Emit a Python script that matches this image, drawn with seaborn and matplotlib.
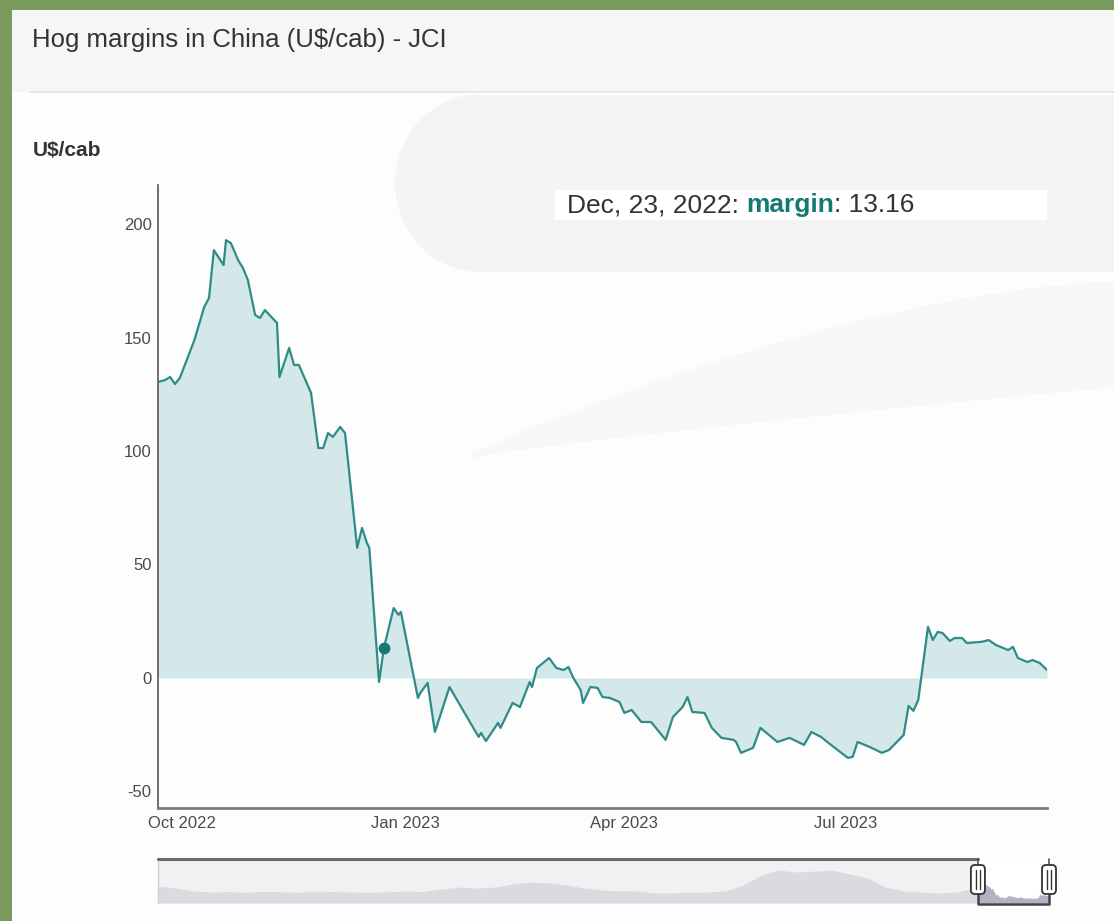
import numpy as np
import pandas as pd
import matplotlib
matplotlib.use("Agg")
import matplotlib.pyplot as plt
import matplotlib.dates as mdates
import matplotlib.transforms as mtransforms
from matplotlib.patches import Rectangle, FancyBboxPatch, Polygon
from matplotlib.lines import Line2D
import seaborn as sns

# ---------------- data ----------------
dates = [
    "2022-09-21", "2022-09-24", "2022-09-26", "2022-09-28", "2022-09-30",
    "2022-10-06", "2022-10-10", "2022-10-12", "2022-10-14", "2022-10-18",
    "2022-10-19", "2022-10-21", "2022-10-24", "2022-10-26", "2022-10-28",
    "2022-10-31", "2022-11-02", "2022-11-04", "2022-11-09", "2022-11-10",
    "2022-11-14", "2022-11-16", "2022-11-18", "2022-11-23", "2022-11-26",
    "2022-11-28", "2022-11-30", "2022-12-02", "2022-12-05", "2022-12-07",
    "2022-12-12", "2022-12-14", "2022-12-16", "2022-12-17", "2022-12-21",
    "2022-12-23", "2022-12-27", "2022-12-29", "2022-12-30", "2023-01-06",
    "2023-01-07", "2023-01-10", "2023-01-13", "2023-01-19", "2023-01-31",
    "2023-02-01", "2023-02-03", "2023-02-08", "2023-02-09", "2023-02-14",
    "2023-02-17", "2023-02-21", "2023-02-22", "2023-02-24", "2023-03-01",
    "2023-03-04", "2023-03-07", "2023-03-09", "2023-03-11", "2023-03-14",
    "2023-03-15", "2023-03-18", "2023-03-21", "2023-03-23", "2023-03-26",
    "2023-03-30", "2023-04-01", "2023-04-04", "2023-04-08", "2023-04-12",
    "2023-04-18", "2023-04-21", "2023-04-25", "2023-04-27", "2023-04-29",
    "2023-05-04", "2023-05-07", "2023-05-11", "2023-05-16", "2023-05-17",
    "2023-05-19", "2023-05-24", "2023-05-27", "2023-06-03", "2023-06-08",
    "2023-06-14", "2023-06-17", "2023-06-21", "2023-06-24", "2023-07-02",
    "2023-07-04", "2023-07-06", "2023-07-11", "2023-07-16", "2023-07-19",
    "2023-07-25", "2023-07-27", "2023-07-29", "2023-07-31", "2023-08-04",
    "2023-08-06", "2023-08-08", "2023-08-10", "2023-08-13", "2023-08-15",
    "2023-08-18", "2023-08-20", "2023-08-26", "2023-08-29", "2023-09-01",
    "2023-09-06", "2023-09-08", "2023-09-10", "2023-09-14", "2023-09-16",
    "2023-09-19", "2023-09-22",
]
margin = [
    130.4, 131.3, 132.6, 129.5, 132.2,
    148.9, 163.4, 167.4, 188.5, 181.9,
    192.9, 191.6, 184.1, 180.6, 175.3,
    159.9, 158.6, 162.1, 156.4, 132.6,
    145.4, 137.9, 137.9, 125.6, 101.3,
    101.3, 107.9, 106.2, 110.6, 107.9,
    57.3, 66.1, 59.5, 57.3, -1.8,
    13.16, 30.8, 27.8, 29.1, -8.8,
    -6.6, -2.2, -23.8, -4.0, -26.0,
    -24.2, -27.8, -19.8, -22.0, -11.0,
    -12.8, -1.8, -4.0, 4.4, 8.8,
    4.4, 3.5, 4.8, 0.0, -5.3,
    -11.0, -4.0, -4.4, -8.4, -8.8,
    -10.6, -15.4, -14.1, -19.4, -19.4,
    -27.3, -17.2, -12.8, -8.4, -15.0,
    -15.4, -22.0, -26.4, -27.3, -28.2,
    -33.0, -30.8, -22.0, -28.2, -26.4,
    -29.5, -23.8, -26.0, -28.6, -35.2,
    -34.8, -28.2, -30.4, -33.0, -31.7,
    -25.1, -12.3, -14.5, -9.7, 22.5,
    16.7, 20.3, 19.8, 16.3, 17.6,
    17.6, 15.4, 15.9, 16.7, 14.5,
    12.3, 13.7, 8.8, 7.0, 7.9,
    6.6, 3.5,
]

# longer quarterly history shown in the navigator strip (2011 Q1 .. 2022 Q2)
history_start = "2011-03-01"
history_margin = [
    145, 116, 73, 58,
    64, 56, 68, 61,
    57, 70, 64, 59,
    55, 62, 72, 66,
    102, 130, 116, 130,
    174, 202, 188, 160,
    116, 87, 73, 73,
    44, 44, 58, 58,
    73, 160, 303, 375,
    346, 360, 375, 318,
    260, 130, 73, 58,
    44, 58,
]

tick_dates = ["2022-10-01", "2023-01-01", "2023-04-01", "2023-07-01"]
tick_labels = ["Oct 2022", "Jan 2023", "Apr 2023", "Jul 2023"]
y_ticks = [-50, 0, 50, 100, 150, 200]

highlight_date = "2022-12-23"
highlight_value = 13.16

title = "Hog margins in China (U$/cab) - JCI"
unit_label = "U$/cab"
series_name = "margin"

# ---------------- style ----------------
LINE = "#2d8c87"
FILL = "#d4e8e9"
MARK = "#137a74"
TXT = "#333333"

sns.set_theme(style="white")
plt.rcParams["font.family"] = ["Liberation Sans", "DejaVu Sans"]

W, H = 1114, 921
fig = plt.figure(figsize=(W / 100, H / 100), dpi=100)
fig.patch.set_facecolor("#7b9a5e")


def fx(px):
    return px / W


def fy(py):
    return 1 - py / H


def fpts(pts):
    return [(fx(x), fy(y)) for x, y in pts]


# card behind everything
fig.add_artist(Rectangle((fx(12), 0), 1 - fx(12), fy(10), transform=fig.transFigure,
                         facecolor="#fdfdfd", edgecolor="none", zorder=-3))
# soft grey band behind the title
fig.add_artist(Rectangle((fx(12), fy(92)), 1 - fx(12), fy(10) - fy(92), transform=fig.transFigure,
                         facecolor="#f6f6f6", edgecolor="none", zorder=-2))

# faint watermark swoosh shapes in the card
t = np.linspace(np.pi / 2, 3 * np.pi / 2, 20)
arc = [(480 + 85 * np.cos(a), 183 - 88 * np.sin(a)) for a in t]
sw1 = [(480, 95), (1114, 95), (1114, 272), (480, 272)] + arc[::-1][1:-1]
sw1 = [(480, 95), (1114, 95), (1114, 272)] + [(480 + 85 * np.cos(a), 183 + 89 * np.sin(a))
                                            for a in np.linspace(np.pi / 2, 3 * np.pi / 2, 24)]
fig.add_artist(Polygon(fpts(sw1), closed=True, transform=fig.transFigure,
                       facecolor="#f4f4f4", edgecolor="none", zorder=-2))
curve_x = np.linspace(470, 1114, 30)
curve_y = 458 - (curve_x - 470) ** 0.85 * 0.29
upper_x = np.linspace(1114, 470, 30)
upper_y = 282 + (1114 - upper_x) ** 1.6 * 0.0055
sw2 = list(zip(curve_x, curve_y)) + list(zip(upper_x, upper_y))
fig.add_artist(Polygon(fpts(sw2), closed=True, transform=fig.transFigure,
                       facecolor="#f7f7f7", edgecolor="none", zorder=-2))

# separator under the title
fig.add_artist(Line2D([fx(30), 1.0], [fy(92), fy(92)], transform=fig.transFigure,
                      color="#e4e4e4", lw=1.2, zorder=1))

fig.text(fx(32), fy(40), title, fontsize=18.5, color=TXT, va="center", ha="left")
fig.text(fx(33), fy(150), unit_label, fontsize=15, fontweight="bold", color=TXT,
         va="center", ha="left")

# ---------------- main chart ----------------
df = pd.DataFrame({"date": pd.to_datetime(dates), "margin": margin})

ax = fig.add_axes([fx(158), fy(808), fx(1047) - fx(158), fy(185) - fy(808)])
ax.set_facecolor("none")
ax.fill_between(df["date"], df["margin"], 0, color=FILL, linewidth=0, zorder=1)
sns.lineplot(data=df, x="date", y="margin", ax=ax, color=LINE, linewidth=1.6, zorder=3)

hd = pd.Timestamp(highlight_date)
ax.plot([hd], [highlight_value], "o", color=MARK, markersize=7.5, zorder=4)

ax.set_xlim(df["date"].min(), df["date"].max())
ax.set_ylim(-57.3, 217.2)
ax.set_xticks(pd.to_datetime(tick_dates))
ax.set_xticklabels(tick_labels)
ax.set_yticks(y_ticks)
ax.set_yticklabels([str(v) for v in y_ticks])
ax.set_xlabel("")
ax.set_ylabel("")
ax.tick_params(axis="both", length=0, labelsize=12, labelcolor="#4a4a4a")
ax.tick_params(axis="y", pad=4.5)
ax.tick_params(axis="x", pad=6)
for s in ("top", "right"):
    ax.spines[s].set_visible(False)
ax.spines["left"].set_color("#555555")
ax.spines["left"].set_linewidth(1.2)
ax.spines["bottom"].set_color("#7a7a7a")
ax.spines["bottom"].set_linewidth(2)

# tooltip box
fig.add_artist(Rectangle((fx(555), fy(220)), fx(1047) - fx(555), fy(190) - fy(220),
                         transform=fig.transFigure, facecolor="white", edgecolor="none",
                         zorder=5))
renderer = fig.canvas.get_renderer()
xcur = fx(567)
parts = [
    (f"{hd.strftime('%b, %d, %Y')}: ", TXT, "normal"),
    (series_name, "#137a72", "bold"),
    (f": {highlight_value:.2f}", TXT, "normal"),
]
for s, c, w in parts:
    tx = fig.text(xcur, fy(205), s, fontsize=19, color=c, fontweight=w,
                  va="center", ha="left", zorder=6)
    xcur = tx.get_window_extent(renderer=renderer).x1 / W

# ---------------- navigator ----------------
hist = pd.DataFrame({
    "date": pd.date_range(history_start, periods=len(history_margin), freq="QS-MAR"),
    "margin": history_margin,
})
nav_df = pd.concat([hist, df], ignore_index=True)
sel0, sel1 = df["date"].min(), df["date"].max()

nav = fig.add_axes([fx(158), fy(903), fx(1049) - fx(158), fy(860) - fy(903)])
nav.set_facecolor("#f1f1f1")
nav.set_xlim(nav_df["date"].min(), nav_df["date"].max())
nav.set_ylim(-100, 520)
nav.axvspan(sel0, sel1, color="white", zorder=0, lw=0)
outside = nav_df[nav_df["date"] <= sel0]
nav.fill_between(outside["date"], outside["margin"], -100, color="#d9dbe1", linewidth=0, zorder=1)
nav.fill_between(df["date"], df["margin"], -100, color="#b0b4c1", linewidth=0, zorder=1)
nav.set_xticks([])
nav.set_yticks([])
for s in ("top", "right", "bottom"):
    nav.spines[s].set_visible(False)
nav.spines["left"].set_color("#d0d0d0")
nav.spines["left"].set_linewidth(1)

ident = mtransforms.IdentityTransform()
x_left = nav.transData.transform((nav.get_xlim()[0], 0))[0]
x_s0 = nav.transData.transform((mdates.date2num(sel0), 0))[0]
x_s1 = nav.transData.transform((mdates.date2num(sel1), 0))[0]

y_top = H - 859
y_bot = H - 904
h_top = H - 865
h_bot = H - 894
dark = "#555555"
fig.add_artist(Line2D([x_left, x_s0], [y_top, y_top], transform=ident, color="#6a6a6a", lw=2.2, zorder=8))
fig.add_artist(Line2D([x_s0, x_s0], [y_top, h_top], transform=ident, color=dark, lw=1.2, zorder=8))
fig.add_artist(Line2D([x_s0, x_s0, x_s1, x_s1], [h_bot, y_bot, y_bot, h_bot], transform=ident,
                      color="#444444", lw=1.8, zorder=8))
fig.add_artist(Line2D([x_s1, x_s1], [y_top, h_top], transform=ident, color=dark, lw=1.2, zorder=8))

for xc in (x_s0, x_s1):
    wdt = 14
    box = FancyBboxPatch((xc - wdt / 2, h_bot), wdt, h_top - h_bot,
                         boxstyle="round,pad=0,rounding_size=4", transform=ident,
                         facecolor="white", edgecolor="#333333", lw=1.3, zorder=9)
    fig.add_artist(box)
    for dx in (-2, 2):
        fig.add_artist(Line2D([xc + dx, xc + dx], [h_bot + 5, h_top - 5], transform=ident,
                              color="#333333", lw=1, zorder=10))

fig.savefig("out.png", dpi=100, facecolor=fig.get_facecolor())
